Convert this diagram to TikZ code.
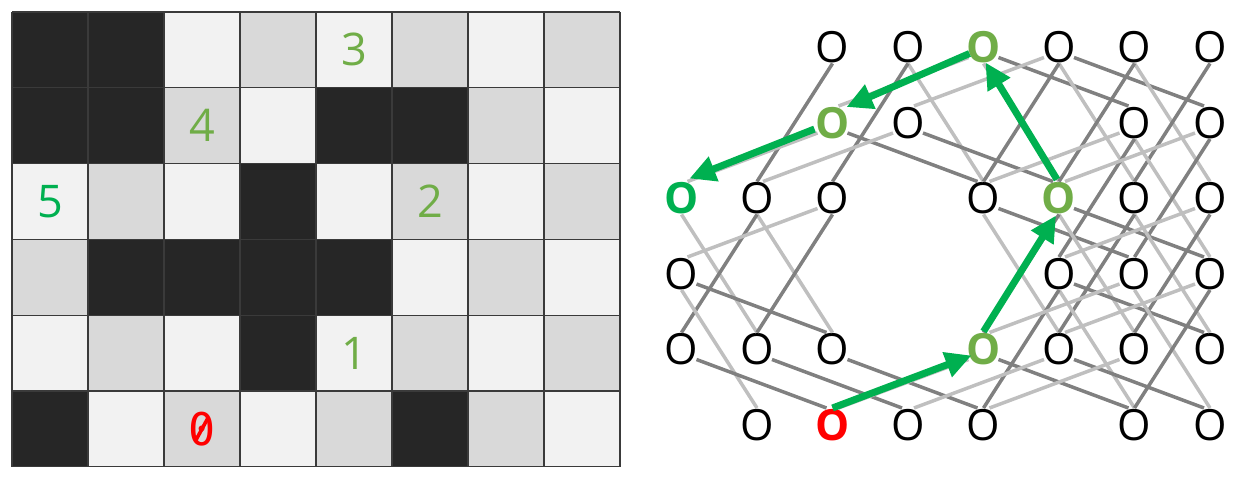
\documentclass[tikz,border=0pt]{standalone}
\usepackage{fontspec}
\setmainfont{Open Sans}
\newfontfamily\zerofont{DejaVu Sans Mono}
\usetikzlibrary{arrows.meta,calc}
\definecolor{cellL}{HTML}{F2F2F2}
\definecolor{cellG}{HTML}{D9D9D9}
\definecolor{cellB}{HTML}{262626}
\definecolor{gridC}{HTML}{3A3A3A}
\definecolor{edgeD}{HTML}{808080}
\definecolor{edgeL}{HTML}{BFBFBF}
\definecolor{pathG}{HTML}{00B050}
\definecolor{lblG}{HTML}{70AD47}
\definecolor{zeroR}{HTML}{FF0000}
% black cells
\def\blacklist{0/0,0/1,1/0,1/1,1/4,1/5,2/3,3/1,3/2,3/3,3/4,4/3,5/0,5/5}
\def\chk#1#2{\ifnum#1<0 0\else\ifnum#1>5 0\else\ifnum#2<0 0\else\ifnum#2>7 0\else\ifcsname blk#1-#2\endcsname 0\else 1\fi\fi\fi\fi\fi}
\tikzset{
  onode/.style={inner sep=0pt, font=\fontsize{43}{43}\selectfont, text=black},
  hot/.style={font=\fontsize{43}{43}\selectfont\bfseries},
  lbl/.style={inner sep=0pt, font=\fontsize{45}{45}\selectfont, text=lblG},
  edge/.style={line width=3.5pt},
  cellline/.style={gridC, line width=1.2pt},
  patharrow/.style={pathG, line width=7pt, -{Triangle[length=26pt,width=25pt]}},
}
\begin{document}
\begin{tikzpicture}[x=1pt,y=-1pt]
\useasboundingbox (0,0) rectangle (1240,480);
\foreach \r/\c in \blacklist {\expandafter\gdef\csname blk\r-\c\endcsname{1}}
% ---------- left board ----------
\foreach \r in {0,...,5}{
  \foreach \c in {0,...,7}{
    \pgfmathtruncatemacro\parity{mod(\r+\c,2)}
    \ifnum\chk{\r}{\c}=0
      \fill[cellB] (12+76*\c,12+75.8*\r) rectangle +(76,75.8);
    \else
      \ifnum\parity=0
        \fill[cellL] (12+76*\c,12+75.8*\r) rectangle +(76,75.8);
      \else
        \fill[cellG] (12+76*\c,12+75.8*\r) rectangle +(76,75.8);
      \fi
    \fi
  }
}
\foreach \k in {0,...,8}{\draw[cellline] (12+76*\k,12) -- (12+76*\k,466.8);}
\foreach \k in {0,...,6}{\draw[cellline] (12,12+75.8*\k) -- (620,12+75.8*\k);}
\node[lbl] (g3) at (354,49.9) {3};
\node[lbl] (g4) at (202,125.7) {4};
\node[lbl, text=pathG] (g5) at (50,201.5) {5};
\node[lbl] (g2) at (430,201.5) {2};
\node[lbl] (g1) at (354,353.1) {1};
\node[lbl, text=zeroR, font=\fontsize{45}{45}\zerofont] (g0) at (202,428.9) {0};
% slash of the slashed zero
\draw[zeroR, line width=3.6pt] ($(g0)+(-6,11)$) -- ($(g0)+(6,-11)$);
% ---------- right graph: nodes ----------
\node[onode] (n02) at (832.5,47.5) {O};
\node[onode] (n03) at (908,47.5) {O};
\node[onode,hot,text=lblG] (n04) at (983.5,47.5) {O};
\node[onode] (n05) at (1059,47.5) {O};
\node[onode] (n06) at (1134.5,47.5) {O};
\node[onode] (n07) at (1210,47.5) {O};
\node[onode,hot,text=lblG] (n12) at (832.5,123) {O};
\node[onode] (n13) at (908,123) {O};
\node[onode] (n16) at (1134.5,123) {O};
\node[onode] (n17) at (1210,123) {O};
\node[onode,hot,text=pathG] (n20) at (681.5,198.5) {O};
\node[onode] (n21) at (757,198.5) {O};
\node[onode] (n22) at (832.5,198.5) {O};
\node[onode] (n24) at (983.5,198.5) {O};
\node[onode,hot,text=lblG] (n25) at (1059,198.5) {O};
\node[onode] (n26) at (1134.5,198.5) {O};
\node[onode] (n27) at (1210,198.5) {O};
\node[onode] (n30) at (681.5,274) {O};
\node[onode] (n35) at (1059,274) {O};
\node[onode] (n36) at (1134.5,274) {O};
\node[onode] (n37) at (1210,274) {O};
\node[onode] (n40) at (681.5,349.5) {O};
\node[onode] (n41) at (757,349.5) {O};
\node[onode] (n42) at (832.5,349.5) {O};
\node[onode,hot,text=lblG] (n44) at (983.5,349.5) {O};
\node[onode] (n45) at (1059,349.5) {O};
\node[onode] (n46) at (1134.5,349.5) {O};
\node[onode] (n47) at (1210,349.5) {O};
\node[onode] (n51) at (757,425) {O};
\node[onode,hot,text=zeroR] (n52) at (832.5,425) {O};
\node[onode] (n53) at (908,425) {O};
\node[onode] (n54) at (983.5,425) {O};
\node[onode] (n56) at (1134.5,425) {O};
\node[onode] (n57) at (1210,425) {O};
% ---------- knight-move edges ----------
\foreach \r in {0,...,5}{
  \foreach \c in {0,...,7}{
    \ifnum\chk{\r}{\c}=1
      \foreach \dr/\dc/\col/\sx/\sy/\ex in {1/2/edgeD/15/10/-6, 1/-2/edgeL/-15/10/6, 2/1/edgeL/0/16/0, 2/-1/edgeD/0/16/0}{
        \pgfmathtruncatemacro\rr{\r+\dr}
        \pgfmathtruncatemacro\cc{\c+\dc}
        \ifnum\chk{\rr}{\cc}=1
          \draw[edge,\col] ($(n\r\c)+(\sx,\sy)$) -- ($(n\rr\cc)+(\ex,-17)$);
        \fi
      }
    \fi
  }
}
% ---------- path arrows ----------
\draw[patharrow] ($(n52)+(0,-17)$) -- ($(n44)+(-12,6)$);
\draw[patharrow] ($(n44)+(0,-18)$) -- ($(n25)+(-3,17)$);
\draw[patharrow] ($(n25)+(-2,-19)$) -- ($(n04)+(2,15)$);
\draw[patharrow] ($(n04)+(-14,6)$) -- ($(n12)+(14,-16)$);
\draw[patharrow] ($(n12)+(-18,6)$) -- ($(n20)+(8,-20)$);
\end{tikzpicture}
\end{document}
